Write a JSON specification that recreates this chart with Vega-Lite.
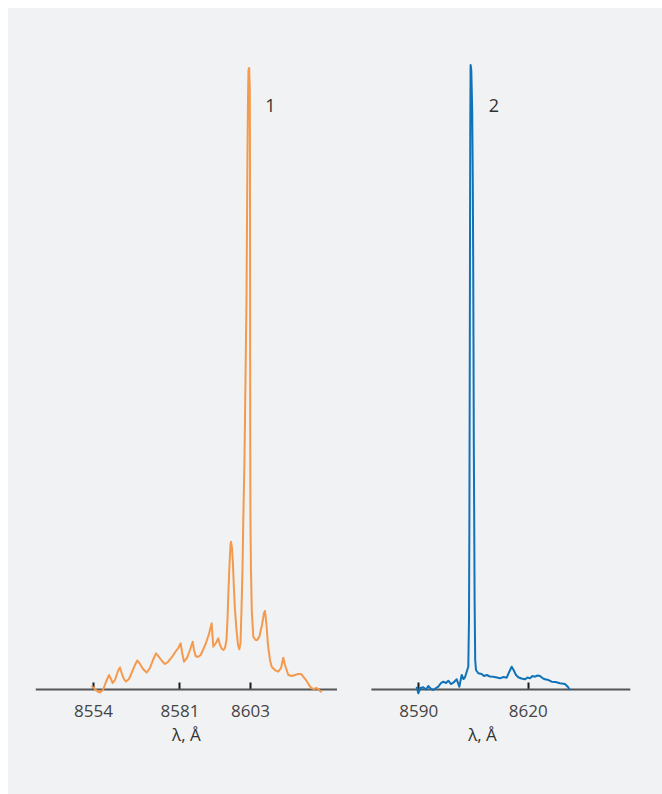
{
  "$schema": "https://vega.github.io/schema/vega-lite/v6.json",
  "width": 662,
  "height": 794,
  "autosize": {"type": "fit", "contains": "padding"},
  "padding": {"left": 8, "top": 8, "right": 0, "bottom": 0},
  "background": "#ffffff",
  "config": {
    "view": {"fill": "#f1f2f4", "stroke": null},
    "font": "Open Sans",
    "axis": {
      "grid": false,
      "domainColor": "#555555",
      "domainWidth": 2,
      "tickColor": "#1a1a1a",
      "tickWidth": 2,
      "tickSize": -7,
      "labelPadding": 21,
      "labelFont": "Open Sans",
      "labelFontSize": 17,
      "labelColor": "#444444",
      "titleFont": "Open Sans",
      "titleFontSize": 17,
      "titleFontWeight": "normal",
      "titleColor": "#333333",
      "titlePadding": 8
    }
  },
  "datasets": {
    "spectrum1": [
      {"lambda": 8553.53, "intensity": 0.0048},
      {"lambda": 8554.31, "intensity": 0.0016},
      {"lambda": 8555.25, "intensity": -0.0032},
      {"lambda": 8556.18, "intensity": -0.0056},
      {"lambda": 8557.12, "intensity": -0.0016},
      {"lambda": 8558.06, "intensity": 0.0112},
      {"lambda": 8558.99, "intensity": 0.0224},
      {"lambda": 8559.62, "intensity": 0.0160},
      {"lambda": 8560.15, "intensity": 0.0096},
      {"lambda": 8560.87, "intensity": 0.0144},
      {"lambda": 8561.80, "intensity": 0.0288},
      {"lambda": 8562.43, "intensity": 0.0345},
      {"lambda": 8563.05, "intensity": 0.0240},
      {"lambda": 8563.68, "intensity": 0.0160},
      {"lambda": 8564.30, "intensity": 0.0120},
      {"lambda": 8565.24, "intensity": 0.0160},
      {"lambda": 8566.17, "intensity": 0.0272},
      {"lambda": 8567.11, "intensity": 0.0385},
      {"lambda": 8567.83, "intensity": 0.0457},
      {"lambda": 8568.67, "intensity": 0.0401},
      {"lambda": 8569.61, "intensity": 0.0321},
      {"lambda": 8570.76, "intensity": 0.0264},
      {"lambda": 8571.79, "intensity": 0.0337},
      {"lambda": 8572.73, "intensity": 0.0465},
      {"lambda": 8573.66, "intensity": 0.0572},
      {"lambda": 8574.60, "intensity": 0.0513},
      {"lambda": 8575.54, "intensity": 0.0449},
      {"lambda": 8576.47, "intensity": 0.0401},
      {"lambda": 8577.41, "intensity": 0.0433},
      {"lambda": 8578.66, "intensity": 0.0513},
      {"lambda": 8579.91, "intensity": 0.0609},
      {"lambda": 8580.62, "intensity": 0.0657},
      {"lambda": 8581.37, "intensity": 0.0732},
      {"lambda": 8581.78, "intensity": 0.0593},
      {"lambda": 8582.40, "intensity": 0.0438},
      {"lambda": 8583.34, "intensity": 0.0497},
      {"lambda": 8584.27, "intensity": 0.0625},
      {"lambda": 8585.12, "intensity": 0.0758},
      {"lambda": 8585.52, "intensity": 0.0625},
      {"lambda": 8586.05, "intensity": 0.0529},
      {"lambda": 8586.77, "intensity": 0.0513},
      {"lambda": 8587.61, "intensity": 0.0545},
      {"lambda": 8588.33, "intensity": 0.0625},
      {"lambda": 8589.27, "intensity": 0.0737},
      {"lambda": 8590.20, "intensity": 0.0881},
      {"lambda": 8591.05, "intensity": 0.1053},
      {"lambda": 8591.30, "intensity": 0.0849},
      {"lambda": 8591.55, "intensity": 0.0678},
      {"lambda": 8592.39, "intensity": 0.0737},
      {"lambda": 8593.11, "intensity": 0.0813},
      {"lambda": 8593.64, "intensity": 0.0705},
      {"lambda": 8594.26, "intensity": 0.0641},
      {"lambda": 8594.73, "intensity": 0.0625},
      {"lambda": 8595.20, "intensity": 0.0657},
      {"lambda": 8595.67, "intensity": 0.0785},
      {"lambda": 8595.98, "intensity": 0.1106},
      {"lambda": 8596.29, "intensity": 0.1587},
      {"lambda": 8596.60, "intensity": 0.1987},
      {"lambda": 8596.92, "intensity": 0.2308},
      {"lambda": 8597.07, "intensity": 0.2361},
      {"lambda": 8597.38, "intensity": 0.2260},
      {"lambda": 8597.70, "intensity": 0.1987},
      {"lambda": 8598.01, "intensity": 0.1587},
      {"lambda": 8598.32, "intensity": 0.1266},
      {"lambda": 8598.79, "intensity": 0.0946},
      {"lambda": 8599.26, "intensity": 0.0705},
      {"lambda": 8599.66, "intensity": 0.0636},
      {"lambda": 8600.04, "intensity": 0.0737},
      {"lambda": 8600.35, "intensity": 0.1266},
      {"lambda": 8600.66, "intensity": 0.1907},
      {"lambda": 8600.91, "intensity": 0.2708},
      {"lambda": 8601.28, "intensity": 0.3670},
      {"lambda": 8601.60, "intensity": 0.4952},
      {"lambda": 8601.91, "intensity": 0.6234},
      {"lambda": 8602.07, "intensity": 0.7516},
      {"lambda": 8602.22, "intensity": 0.8638},
      {"lambda": 8602.38, "intensity": 0.9439},
      {"lambda": 8602.53, "intensity": 0.9920},
      {"lambda": 8602.75, "intensity": 0.9952},
      {"lambda": 8602.94, "intensity": 0.9599},
      {"lambda": 8603.00, "intensity": 0.8478},
      {"lambda": 8603.03, "intensity": 0.6875},
      {"lambda": 8603.06, "intensity": 0.5272},
      {"lambda": 8603.09, "intensity": 0.3830},
      {"lambda": 8603.15, "intensity": 0.2708},
      {"lambda": 8603.31, "intensity": 0.1907},
      {"lambda": 8603.56, "intensity": 0.1266},
      {"lambda": 8604.03, "intensity": 0.0838},
      {"lambda": 8604.72, "intensity": 0.0785},
      {"lambda": 8605.28, "intensity": 0.0785},
      {"lambda": 8605.97, "intensity": 0.0849},
      {"lambda": 8606.75, "intensity": 0.1026},
      {"lambda": 8607.37, "intensity": 0.1218},
      {"lambda": 8607.68, "intensity": 0.1250},
      {"lambda": 8608.15, "intensity": 0.1026},
      {"lambda": 8608.62, "intensity": 0.0705},
      {"lambda": 8609.24, "intensity": 0.0465},
      {"lambda": 8609.77, "intensity": 0.0357},
      {"lambda": 8610.80, "intensity": 0.0304},
      {"lambda": 8611.83, "intensity": 0.0277},
      {"lambda": 8612.68, "intensity": 0.0337},
      {"lambda": 8613.40, "intensity": 0.0502},
      {"lambda": 8613.93, "intensity": 0.0385},
      {"lambda": 8614.96, "intensity": 0.0224},
      {"lambda": 8616.11, "intensity": 0.0208},
      {"lambda": 8617.05, "intensity": 0.0224},
      {"lambda": 8618.08, "intensity": 0.0240},
      {"lambda": 8618.92, "intensity": 0.0240},
      {"lambda": 8619.64, "intensity": 0.0197},
      {"lambda": 8620.48, "intensity": 0.0144},
      {"lambda": 8621.42, "intensity": 0.0064},
      {"lambda": 8622.26, "intensity": 0.0011},
      {"lambda": 8622.98, "intensity": 0.0000},
      {"lambda": 8623.82, "intensity": 0.0016},
      {"lambda": 8624.54, "intensity": -0.0016},
      {"lambda": 8625.38, "intensity": -0.0053}
    ],
    "spectrum2": [
      {"lambda": 8589.56, "intensity": 0.0037},
      {"lambda": 8590.00, "intensity": -0.0069},
      {"lambda": 8590.60, "intensity": 0.0016},
      {"lambda": 8591.37, "intensity": 0.0027},
      {"lambda": 8592.11, "intensity": -0.0008},
      {"lambda": 8592.74, "intensity": 0.0048},
      {"lambda": 8593.48, "intensity": 0.0000},
      {"lambda": 8594.11, "intensity": -0.0016},
      {"lambda": 8594.85, "intensity": 0.0016},
      {"lambda": 8595.48, "intensity": 0.0037},
      {"lambda": 8596.22, "intensity": 0.0096},
      {"lambda": 8596.85, "intensity": 0.0117},
      {"lambda": 8597.60, "intensity": 0.0096},
      {"lambda": 8598.23, "intensity": 0.0133},
      {"lambda": 8598.97, "intensity": 0.0080},
      {"lambda": 8599.60, "intensity": 0.0101},
      {"lambda": 8600.53, "intensity": 0.0155},
      {"lambda": 8601.24, "intensity": 0.0037},
      {"lambda": 8601.90, "intensity": 0.0224},
      {"lambda": 8602.39, "intensity": 0.0160},
      {"lambda": 8602.81, "intensity": 0.0188},
      {"lambda": 8603.27, "intensity": 0.0277},
      {"lambda": 8603.71, "intensity": 0.0357},
      {"lambda": 8603.90, "intensity": 0.1106},
      {"lambda": 8604.01, "intensity": 0.2708},
      {"lambda": 8604.09, "intensity": 0.4631},
      {"lambda": 8604.15, "intensity": 0.6234},
      {"lambda": 8604.20, "intensity": 0.7837},
      {"lambda": 8604.26, "intensity": 0.9119},
      {"lambda": 8604.34, "intensity": 1.0000},
      {"lambda": 8604.53, "intensity": 0.9920},
      {"lambda": 8604.78, "intensity": 0.9279},
      {"lambda": 8604.94, "intensity": 0.8157},
      {"lambda": 8605.05, "intensity": 0.6875},
      {"lambda": 8605.14, "intensity": 0.5433},
      {"lambda": 8605.22, "intensity": 0.3990},
      {"lambda": 8605.33, "intensity": 0.2708},
      {"lambda": 8605.44, "intensity": 0.1426},
      {"lambda": 8605.60, "intensity": 0.0465},
      {"lambda": 8605.82, "intensity": 0.0304},
      {"lambda": 8606.45, "intensity": 0.0252},
      {"lambda": 8607.38, "intensity": 0.0240},
      {"lambda": 8608.01, "intensity": 0.0208},
      {"lambda": 8608.76, "intensity": 0.0224},
      {"lambda": 8609.66, "intensity": 0.0200},
      {"lambda": 8610.57, "intensity": 0.0197},
      {"lambda": 8611.58, "intensity": 0.0184},
      {"lambda": 8612.40, "intensity": 0.0171},
      {"lambda": 8613.36, "intensity": 0.0192},
      {"lambda": 8614.24, "intensity": 0.0181},
      {"lambda": 8614.95, "intensity": 0.0277},
      {"lambda": 8615.61, "intensity": 0.0357},
      {"lambda": 8616.24, "intensity": 0.0293},
      {"lambda": 8616.79, "intensity": 0.0224},
      {"lambda": 8617.42, "intensity": 0.0188},
      {"lambda": 8618.30, "intensity": 0.0168},
      {"lambda": 8619.26, "intensity": 0.0155},
      {"lambda": 8619.94, "intensity": 0.0184},
      {"lambda": 8620.63, "intensity": 0.0171},
      {"lambda": 8621.31, "intensity": 0.0208},
      {"lambda": 8622.00, "intensity": 0.0197},
      {"lambda": 8622.68, "intensity": 0.0216},
      {"lambda": 8623.37, "intensity": 0.0208},
      {"lambda": 8624.06, "intensity": 0.0176},
      {"lambda": 8624.74, "intensity": 0.0155},
      {"lambda": 8625.70, "intensity": 0.0144},
      {"lambda": 8626.58, "intensity": 0.0117},
      {"lambda": 8627.62, "intensity": 0.0112},
      {"lambda": 8628.85, "intensity": 0.0091},
      {"lambda": 8630.22, "intensity": 0.0080},
      {"lambda": 8631.05, "intensity": 0.0032},
      {"lambda": 8631.60, "intensity": -0.0016}
    ],
    "label1": [{"lambda": 8609.4, "intensity": 0.932, "text": "1"}],
    "label2": [{"lambda": 8610.76, "intensity": 0.932, "text": "2"}]
  },
  "resolve": {"scale": {"x": "independent"}, "axis": {"x": "independent"}},
  "layer": [
    {
      "encoding": {
        "x": {
          "field": "lambda",
          "type": "quantitative",
          "scale": {"domain": [8536, 8630], "range": [27.3, 328.5], "nice": false, "zero": false},
          "axis": {"values": [8554, 8581, 8603], "format": "d", "title": "λ, Å", "orient": "bottom", "offset": -105}
        },
        "y": {
          "field": "intensity",
          "type": "quantitative",
          "scale": {"domain": [-0.16827, 1.09135], "nice": false, "zero": false},
          "axis": null
        }
      },
      "layer": [
        {
          "data": {"name": "spectrum1"},
          "mark": {"type": "line", "color": "#f5994c", "strokeWidth": 2, "strokeJoin": "round"}
        },
        {
          "data": {"name": "label1"},
          "mark": {"type": "text", "fontSize": 18, "color": "#333333", "align": "center", "baseline": "middle"},
          "encoding": {"text": {"field": "text"}}
        }
      ]
    },
    {
      "encoding": {
        "x": {
          "field": "lambda",
          "type": "quantitative",
          "scale": {"domain": [8577, 8648], "range": [362.9, 621.8], "nice": false, "zero": false},
          "axis": {"values": [8590, 8620], "format": "d", "title": "λ, Å", "orient": "bottom", "offset": -105, "titleX": 474}
        },
        "y": {
          "field": "intensity",
          "type": "quantitative",
          "scale": {"domain": [-0.16827, 1.09135], "nice": false, "zero": false},
          "axis": null
        }
      },
      "layer": [
        {
          "data": {"name": "spectrum2"},
          "mark": {"type": "line", "color": "#1072b9", "strokeWidth": 2, "strokeJoin": "round"}
        },
        {
          "data": {"name": "label2"},
          "mark": {"type": "text", "fontSize": 18, "color": "#333333", "align": "center", "baseline": "middle"},
          "encoding": {"text": {"field": "text"}}
        }
      ]
    }
  ]
}
